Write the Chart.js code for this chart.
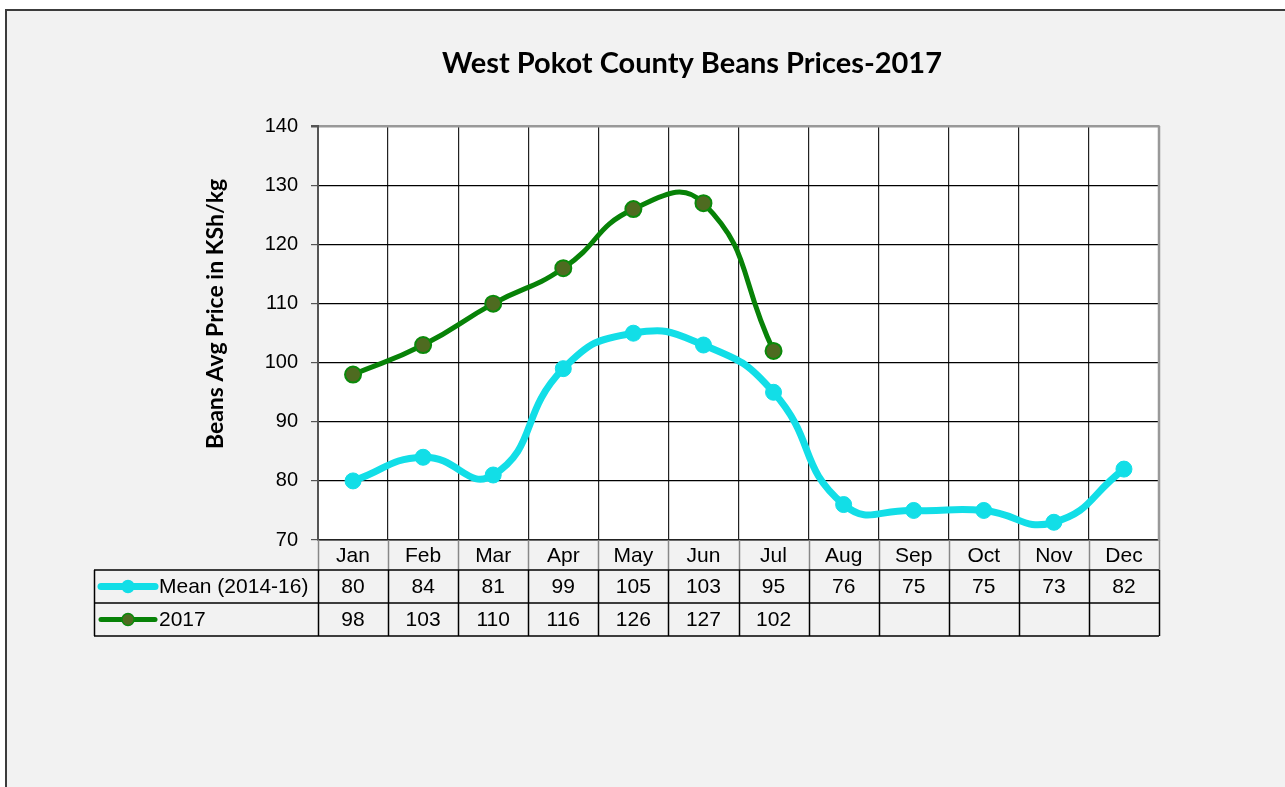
<!DOCTYPE html>
<html>
<head>
<meta charset="utf-8">
<script src="https://cdn.jsdelivr.net/npm/chart.js@4.4.1/dist/chart.umd.min.js"></script>
<style>
    html, body { margin: 0; padding: 0; background: #fff; overflow: hidden; }
    #frame {
        position: absolute; left: 5px; top: 9px; width: 1400px; height: 800px;
        background: #f2f2f2; border: 2px solid #3c3c3c; box-sizing: border-box;
    }
    #chartBox { position: absolute; left: 0; top: 0; width: 1285px; height: 787px; }
</style>
</head>
<body>
<div id="frame"></div>
<div id="chartBox"><canvas id="myChart" width="1285" height="787"></canvas></div>
<script>
const months = ['Jan', 'Feb', 'Mar', 'Apr', 'May', 'Jun', 'Jul', 'Aug', 'Sep', 'Oct', 'Nov', 'Dec'];
const meanPrices = [80, 84, 81, 99, 105, 103, 95, 76, 75, 75, 73, 82];
const prices2017 = [98, 103, 110, 116, 126, 127, 102, null, null, null, null, null];
const seriesNames = ['Mean (2014-16)', '2017'];
const yMin = 70, yMax = 140, yStep = 10;

const cyan = '#12dee7';
const green = '#078207';
const tableFont = '21px "Liberation Sans", Arial, sans-serif';

// white plot background
const plotBackground = {
    id: 'plotBackground',
    beforeDraw(chart) {
        const { ctx, chartArea: a } = chart;
        ctx.save();
        ctx.fillStyle = '#fff';
        ctx.fillRect(a.left, a.top, a.right - a.left, a.bottom - a.top);
        ctx.restore();
    }
};

// data table under the plot + rotated axis title
const dataTable = {
    id: 'dataTable',
    afterDraw(chart) {
        const { ctx, chartArea: a, scales: { x } } = chart;
        const colW = (a.right - a.left) / months.length;
        const rowH = [30, 33, 33];
        const r0 = a.bottom, r1 = r0 + rowH[0], r2 = r1 + rowH[1], r3 = r2 + rowH[2];
        const legendLeft = 94;

        ctx.save();

        // month row separators
        ctx.strokeStyle = '#888';
        ctx.lineWidth = 1.5;
        for (let i = 0; i <= months.length; i++) {
            const px = Math.round(a.left + i * colW) + 0.5;
            ctx.beginPath();
            ctx.moveTo(px, r0);
            ctx.lineTo(px, r1);
            ctx.stroke();
        }

        // data rows grid
        ctx.strokeStyle = '#000';
        ctx.lineWidth = 1.5;
        [r1, r2, r3].forEach(y => {
            ctx.beginPath();
            ctx.moveTo(legendLeft, y);
            ctx.lineTo(a.right, y);
            ctx.stroke();
        });
        const vx = [legendLeft];
        for (let i = 0; i <= months.length; i++) vx.push(a.left + i * colW);
        vx.forEach(px => {
            px = Math.round(px) + 0.5;
            ctx.beginPath();
            ctx.moveTo(px, r1);
            ctx.lineTo(px, r3);
            ctx.stroke();
        });

        ctx.fillStyle = '#000';
        ctx.font = tableFont;
        ctx.textAlign = 'center';
        ctx.textBaseline = 'middle';
        months.forEach((m, i) => {
            ctx.fillText(m, x.getPixelForValue(i), (r0 + r1) / 2 + 1);
        });

        const rows = [[r1, r2], [r2, r3]];
        chart.data.datasets.forEach((ds, d) => {
            const cy = (rows[d][0] + rows[d][1]) / 2 + 1;
            ds.data.forEach((v, i) => {
                if (v === null) return;
                ctx.fillText(String(v), x.getPixelForValue(i), cy);
            });

            // legend key
            const ky = (rows[d][0] + rows[d][1]) / 2;
            ctx.strokeStyle = ds.borderColor;
            ctx.lineWidth = ds.borderWidth;
            ctx.lineCap = 'round';
            ctx.beginPath();
            ctx.moveTo(101, ky);
            ctx.lineTo(155, ky);
            ctx.stroke();
            ctx.beginPath();
            ctx.arc(128, ky, 6, 0, Math.PI * 2);
            ctx.fillStyle = ds.pointBackgroundColor;
            ctx.fill();
            ctx.lineWidth = 1.5;
            ctx.strokeStyle = ds.pointBorderColor;
            ctx.stroke();

            ctx.fillStyle = '#000';
            ctx.textAlign = 'left';
            ctx.fillText(ds.label, 159, cy);
            ctx.textAlign = 'center';
        });

        // right plot border
        ctx.strokeStyle = '#999';
        ctx.lineWidth = 2.5;
        ctx.beginPath();
        ctx.moveTo(a.right, a.top);
        ctx.lineTo(a.right, a.bottom);
        ctx.stroke();

        // y axis title
        ctx.translate(216, 314);
        ctx.rotate(-Math.PI / 2);
        ctx.font = 'bold 23px Lato, "Open Sans", sans-serif';
        ctx.fillStyle = '#000';
        ctx.textAlign = 'center';
        ctx.textBaseline = 'middle';
        ctx.fillText('Beans Avg Price in KSh/kg', 0, 0);

        ctx.restore();
    }
};

const data = {
    labels: months,
    datasets: [
        {
            label: seriesNames[0],
            data: meanPrices,
            borderColor: cyan,
            backgroundColor: cyan,
            borderWidth: 7,
            pointRadius: 8,
            pointBackgroundColor: cyan,
            pointBorderColor: cyan,
            pointBorderWidth: 1,
            tension: 0.5,
            order: 2
        },
        {
            label: seriesNames[1],
            data: prices2017,
            borderColor: green,
            backgroundColor: green,
            borderWidth: 5,
            pointRadius: 8,
            pointBackgroundColor: '#4e6b20',
            pointBorderColor: '#0a8a0a',
            pointBorderWidth: 2,
            tension: 0.5,
            order: 1
        }
    ]
};

const config = {
    type: 'line',
    data: data,
    options: {
        responsive: false,
        animation: false,
        layout: {
            padding: { left: 225, right: 126, top: 0, bottom: 247 }
        },
        plugins: {
            legend: { display: false },
            tooltip: { enabled: false },
            title: {
                display: true,
                text: 'West Pokot County Beans Prices-2017',
                color: '#000',
                font: { family: 'Lato', size: 29, weight: 'bold' },
                padding: { top: 46, bottom: 45.6 }
            }
        },
        scales: {
            x: {
                offset: true,
                grid: {
                    offset: true,
                    drawTicks: false,
                    color: (c) => c.index === months.length ? '#999' : '#222',
                    lineWidth: 1.2
                },
                border: { color: '#222', width: 1.5 },
                ticks: { display: false },
                afterFit(scale) { scale.height = 0; }
            },
            y: {
                min: yMin,
                max: yMax,
                ticks: {
                    stepSize: yStep,
                    color: '#000',
                    padding: 13,
                    font: { family: '"Liberation Sans", Arial, sans-serif', size: 20 }
                },
                grid: {
                    color: (c) => c.tick && c.tick.value === yMax ? '#999' : '#000',
                    lineWidth: (c) => c.tick && c.tick.value === yMax ? 2.5 : 1.2,
                    tickLength: 7,
                    tickColor: '#555'
                },
                border: { color: '#555', width: 2 },
                afterFit(scale) { scale.width = 93; }
            }
        }
    },
    plugins: [plotBackground, dataTable]
};

new Chart(document.getElementById('myChart'), config);
</script>
</body>
</html>
